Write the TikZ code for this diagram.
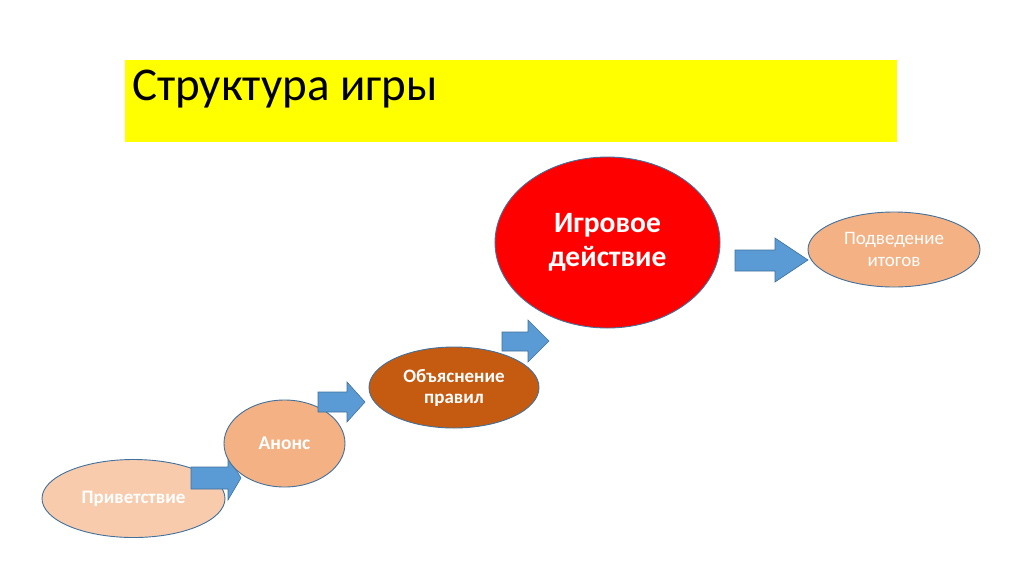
\documentclass[tikz,border=0pt]{standalone}
\usepackage{fontspec}
\setmainfont{Carlito}
\usetikzlibrary{shapes.geometric}
\definecolor{peachA}{HTML}{F8CBAD}
\definecolor{peachB}{HTML}{F4B183}
\definecolor{rust}{HTML}{C55A11}
\definecolor{arrowblue}{HTML}{5B9BD5}
\definecolor{edgeblue}{HTML}{41719C}
\definecolor{titleyellow}{HTML}{FFFF00}
\begin{document}
\begin{tikzpicture}[x=1pt,y=-1pt,
  stage/.style={ellipse, draw=edgeblue, line width=0.9pt, inner sep=0pt, text=white, align=center},
  blockarrow/.style={fill=arrowblue, draw=edgeblue, line width=0.6pt, line join=miter}]
\useasboundingbox (0,0) rectangle (1024,574);
\fill[white] (0,0) rectangle (1024,574);
\fill[titleyellow] (125,60) rectangle (897,142);
\node[anchor=west, inner sep=0pt, font=\fontsize{47}{50}\selectfont] (title) at (132,89) {Структура игры};

\node[stage, fill=peachA, minimum width=183pt, minimum height=78pt, font=\bfseries\fontsize{19}{21}\selectfont] (s1) at (133.5,498.5) {Приветствие};
\draw[blockarrow] (191,467) -- (228,467) -- (228,456) -- (241,478) -- (228,500) -- (228,489) -- (191,489) -- cycle;
\node[stage, fill=peachB, minimum width=121pt, minimum height=87pt, font=\bfseries\fontsize{19.5}{21}\selectfont] (s2) at (284.5,443.5) {Анонс};
\draw[blockarrow] (318,392) -- (347,392) -- (347,382) -- (365,402) -- (347,422) -- (347,412) -- (318,412) -- cycle;
\node[stage, fill=rust, minimum width=170pt, minimum height=81pt, font=\bfseries\fontsize{19}{21}\selectfont] (s3) at (454,387.5) {Объяснение\\правил};
\draw[blockarrow] (502,332) -- (528,332) -- (528,320) -- (549,341) -- (528,362) -- (528,351) -- (502,351) -- cycle;
\node[stage, fill=red, minimum width=225pt, minimum height=171pt, font=\bfseries\fontsize{29.5}{34}\selectfont] (s4) at (607.5,242.5) {Игровое\\действие};
\draw[blockarrow] (735,250) -- (775,250) -- (775,238) -- (808,260) -- (775,282) -- (775,271) -- (735,271) -- cycle;
\node[stage, fill=peachB, minimum width=172pt, minimum height=75pt, font=\fontsize{19}{22}\selectfont] (s5) at (894,249.5) {Подведение\\итогов};
\end{tikzpicture}
\end{document}
